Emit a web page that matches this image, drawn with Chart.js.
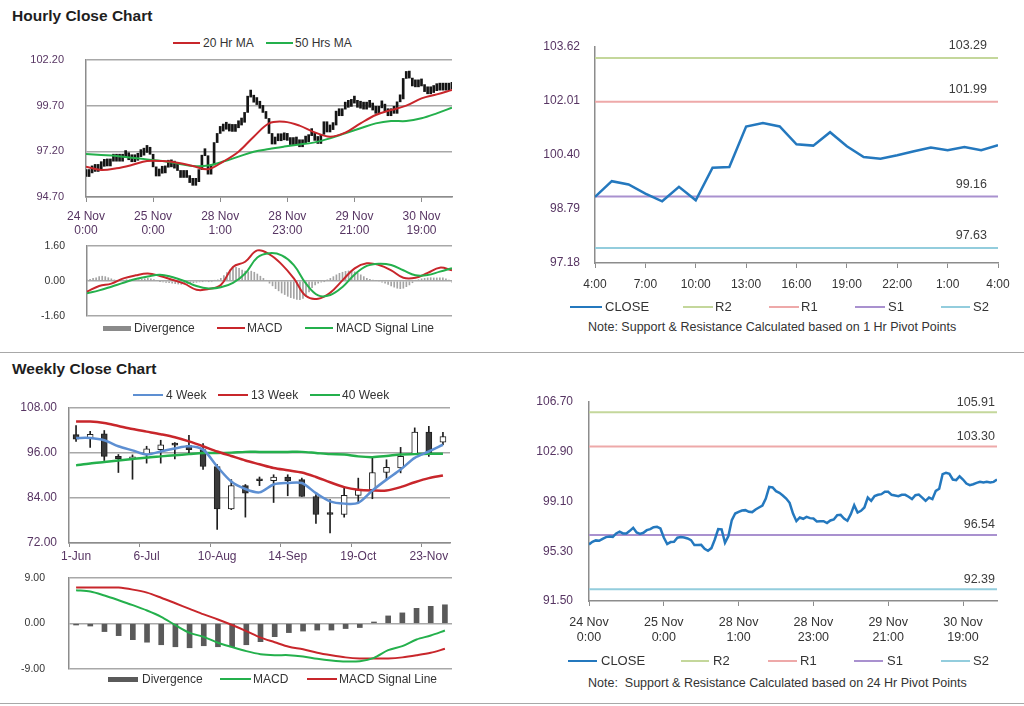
<!DOCTYPE html>
<html>
<head>
<meta charset="utf-8">
<script src="https://cdn.jsdelivr.net/npm/chart.js@4.4.1/dist/chart.umd.min.js"></script>
<style>
  body { margin: 0; width: 1024px; height: 706px; background: #fff; position: relative; overflow: hidden;
         font-family: "Liberation Sans", Arial, sans-serif; }
  .title { position: absolute; left: 12px; font-weight: bold; font-size: 15.5px; color: #1e1e1e; line-height: 18px; }
  .rule { position: absolute; left: 0; width: 1024px; height: 0; border-top: 1.5px solid #a8a8a8; }
  .lg { position: absolute; font-size: 12px; color: #333; white-space: nowrap; line-height: 14px; }
  .note { position: absolute; font-size: 12.5px; color: #333; white-space: pre; line-height: 16px; }
</style>
</head>
<body>
<div class="title" style="top:7px">Hourly Close Chart</div>
<div class="rule" style="top:352px"></div>
<div class="title" style="top:360px">Weekly Close Chart</div>
<div class="rule" style="top:703px"></div>
<div class="note" style="left:588px;top:319px">Note: Support &amp; Resistance Calculated based on 1 Hr Pivot Points</div>
<div class="note" style="left:588px;top:675px">Note:  Support &amp; Resistance Calculated based on 24 Hr Pivot Points</div>

<script>
// ---- hourly data (24 Nov 0:00 .. 1 Dec) ----
const hourlyTickIdx = [0, 22, 44, 66, 88, 110];
const hourlyTickLabels = [['24 Nov', '0:00'], ['25 Nov', '0:00'], ['28 Nov', '1:00'],
                          ['28 Nov', '23:00'], ['29 Nov', '21:00'], ['30 Nov', '19:00']];
const hourlyYTicks = [94.70, 97.20, 99.70, 102.20];
const hourlyFirstOpen = 96.0;
const hourlyClose = [
  95.82, 96.02, 96.13, 96.10, 96.25, 96.38, 96.43, 96.40, 96.66, 96.79,
  96.66, 96.66, 96.86, 97.09, 96.74, 96.63, 96.71, 96.91, 96.99, 97.14,
  97.17, 97.04, 96.35, 95.85, 96.00, 96.02, 96.33, 96.38, 96.35, 96.28,
  96.15, 95.77, 95.77, 95.79, 95.49, 95.34, 95.54, 96.20, 96.99, 96.96,
  95.95, 96.46, 97.68, 98.18, 98.31, 98.41, 98.44, 98.31, 98.29, 98.49,
  98.64, 98.79, 99.33, 100.22, 100.17, 99.89, 99.76, 99.56, 99.33, 99.00,
  98.18, 97.60, 97.88, 97.78, 97.93, 97.83, 97.80, 97.57, 97.60, 97.60,
  97.45, 97.65, 97.73, 98.06, 98.08, 97.80, 97.63, 98.13, 98.82, 98.26,
  98.39, 98.64, 99.40, 99.15, 99.51, 99.61, 99.66, 99.84, 99.84, 99.61,
  99.56, 99.51, 99.61, 99.61, 99.46, 99.28, 99.58, 99.63, 99.40, 99.15,
  99.40, 99.28, 99.91, 100.07, 101.19, 101.29, 101.21, 100.78, 100.73, 101.03,
  100.78, 100.47, 100.35, 100.42, 100.52, 100.60, 100.55, 100.60, 100.55, 100.60,
  100.78
];
const hourlyMaIdx = [0, 5, 10, 15, 20, 25, 30, 35, 40, 45, 50, 55, 60, 65, 70, 75, 80, 85, 90, 95, 100, 105, 110, 115, 120];
const hourlyMa20 = [96.36, 96.18, 96.27, 96.45, 96.67, 96.67, 96.58, 96.40, 96.22, 96.64, 97.18, 98.00, 98.73,
                    98.82, 98.61, 98.24, 98.00, 98.22, 98.73, 99.19, 99.46, 99.70, 100.10, 100.32, 100.56];
const hourlyMa50 = [97.05, 97.00, 96.95, 96.85, 96.76, 96.67, 96.54, 96.40, 96.42, 96.64, 96.91, 97.18, 97.33,
                    97.46, 97.58, 97.69, 97.91, 98.19, 98.46, 98.73, 98.86, 98.86, 99.01, 99.28, 99.59];

const hourlyMacdIdx = [0, 4, 8, 12, 16, 20, 24, 28, 32, 36, 40, 44, 48, 52, 56, 60, 64, 68, 72, 76, 80, 84, 88, 92, 96, 100, 104, 108, 112, 116, 120];
const hourlyMacd = [-0.49, -0.23, -0.12, 0.12, 0.26, 0.34, 0.23, 0.06, -0.12, -0.40, -0.37, -0.18, 0.64, 0.88, 1.40, 1.22,
                    0.76, 0.12, -0.69, -0.81, -0.53, 0.03, 0.58, 0.81, 0.73, 0.49, 0.15, 0.15, 0.37, 0.61, 0.49];
const hourlySignal = [-0.56, -0.43, -0.26, -0.08, 0.09, 0.21, 0.29, 0.18, 0.00, -0.23, -0.34, -0.29, -0.09, 0.34, 1.07, 1.27,
                      1.17, 0.73, -0.12, -0.66, -0.64, -0.27, 0.30, 0.69, 0.79, 0.73, 0.49, 0.26, 0.27, 0.43, 0.58];
const hourlyDivergence = [
  0.05, 0.08, 0.12, 0.15, 0.2, 0.22, 0.2, 0.15, 0.1,
  0.05, 0.03, 0.02, 0.04, 0.06, 0.05, 0.04, 0.05, 0.06, 0.08, 0.1,
  0.12, 0.1, 0.06, 0.03, -0.02, -0.04, -0.06,
  -0.08, -0.1, -0.12, -0.14, -0.15, -0.14, -0.12, -0.1, -0.08, -0.06, -0.04,
  -0.02, 0.0, -0.02, -0.03, 0.02, 0.05, 0.12,
  0.25, 0.38, 0.5, 0.6, 0.62, 0.58, 0.5, 0.45, 0.42, 0.45, 0.4, 0.32, 0.22, 0.12, 0.02,
  -0.1, -0.22, -0.35, -0.45, -0.55, -0.62, -0.7, -0.76, -0.8, -0.84, -0.85, -0.8, -0.7, -0.5, -0.3,
  -0.18, -0.1, -0.05, -0.02, 0.05,
  0.12, 0.2, 0.28, 0.35, 0.4, 0.44, 0.46, 0.45, 0.42, 0.36, 0.28, 0.2, 0.12,
  0.08, 0.04, 0.02, 0.0,
  -0.05, -0.1, -0.16, -0.22, -0.28, -0.33, -0.35, -0.33, -0.26, -0.18, -0.08,
  0.02, 0.06, 0.1, 0.12, 0.14, 0.15, 0.14, 0.14, 0.15, 0.14, 0.1, 0.04, -0.05
];
const hourlyMacdTicks = [-1.60, 0.00, 1.60];

// ---- 1 hr pivot panel ----
const pivot1hHours = ['4:00', '5:00', '6:00', '7:00', '8:00', '9:00', '10:00', '11:00', '12:00', '13:00', '14:00', '15:00',
                      '16:00', '17:00', '18:00', '19:00', '20:00', '21:00', '22:00', '23:00', '0:00', '1:00', '2:00', '3:00', '4:00'];
const pivot1hClose = [99.15, 99.62, 99.52, 99.25, 99.02, 99.45, 99.05, 100.02, 100.04, 101.25, 101.35, 101.25,
                      100.72, 100.68, 101.08, 100.66, 100.34, 100.29, 100.39, 100.51, 100.62, 100.54, 100.64, 100.54, 100.69];
const pivot1hLevels = [103.29, 101.99, 99.16, 97.63];
const pivot1hYTicks = [97.18, 98.79, 100.40, 102.01, 103.62];

// ---- 24 hr pivot panel ----
const pivot24hLevels = [105.91, 103.30, 96.54, 92.39];
const pivot24hYTicks = [91.50, 95.30, 99.10, 102.90, 106.70];
const pivotNames = ['R2', 'R1', 'S1', 'S2'];

// ---- weekly data ----
const weeklyLabels = ['1-Jun', '8-Jun', '15-Jun', '22-Jun', '29-Jun', '6-Jul', '13-Jul', '20-Jul', '27-Jul', '3-Aug',
                      '10-Aug', '17-Aug', '24-Aug', '31-Aug', '7-Sep', '14-Sep', '21-Sep', '28-Sep', '5-Oct', '12-Oct',
                      '19-Oct', '26-Oct', '2-Nov', '9-Nov', '16-Nov', '23-Nov', '30-Nov'];
const weeklyOpen  = [100.9, 100.0, 101.1, 95.1, 94.4, 95.6, 96.9, 98.5, 98.0, 96.9, 92.4, 81.1, 87.3, 88.8,
                     88.6, 89.6, 88.9, 84.4, 79.8, 79.6, 84.7, 86.2, 90.8, 92.0, 95.8, 101.6, 98.9];
const weeklyClose = [99.7, 101.0, 95.1, 94.4, 95.0, 97.1, 98.2, 98.1, 96.9, 92.4, 81.1, 87.3, 85.3, 88.6,
                     89.6, 88.6, 84.4, 79.6, 79.6, 84.7, 86.2, 90.8, 92.2, 95.1, 101.6, 96.0, 100.4];
const weeklyHigh  = [103.3, 101.8, 102.0, 95.6, 95.5, 97.8, 99.4, 98.8, 100.7, 98.5, 92.9, 88.9, 87.6, 89.6,
                     90.2, 90.2, 89.3, 84.9, 83.6, 86.7, 89.3, 95.1, 94.2, 97.5, 102.7, 103.1, 101.5];
const weeklyLow   = [99.1, 97.5, 94.0, 90.8, 89.0, 93.3, 93.3, 94.4, 95.6, 91.6, 75.6, 80.9, 78.9, 87.3,
                     82.8, 84.6, 84.4, 77.2, 74.7, 78.9, 82.7, 83.8, 88.9, 90.7, 95.6, 95.1, 98.2];
const weeklyMa4  = [100.0, 100.0, 99.4, 97.8, 96.7, 95.6, 96.4, 97.2, 97.8, 96.9, 92.4, 88.4, 86.4, 85.5,
                    87.6, 88.0, 88.0, 85.3, 83.1, 82.5, 82.7, 86.0, 88.9, 91.6, 94.7, 96.4, 98.2];
const weeklyMa13 = [104.4, 104.4, 104.0, 103.2, 102.4, 101.7, 101.0, 100.2, 99.1, 97.8, 96.4, 95.2, 94.0, 93.0,
                    92.0, 91.4, 90.8, 89.6, 88.2, 86.9, 86.2, 86.0, 86.0, 86.9, 88.2, 89.3, 90.0];
const weeklyMa40 = [92.7, 93.2, 93.6, 94.0, 94.4, 94.8, 95.1, 95.4, 95.7, 96.0, 96.0, 96.1, 96.3, 96.3,
                    96.3, 96.3, 96.3, 96.0, 95.7, 95.6, 95.1, 94.9, 95.2, 95.6, 95.7, 95.8, 95.8];
const weeklyYTicks = [72, 84, 96, 108];
const weeklyMacd   = [6.59, 6.33, 5.54, 4.61, 3.63, 2.57, 1.32, -0.33, -1.85, -2.64, -3.82, -4.68, -5.47, -6.06,
                      -6.26, -6.26, -6.53, -6.99, -7.32, -7.52, -7.45, -6.79, -5.27, -4.48, -3.16, -2.37, -1.38];
const weeklySignal = [7.1, 7.1, 7.1, 7.1, 6.7, 6.1, 5.1, 4.0, 2.9, 1.8, 0.8, -0.3, -1.5, -2.8,
                      -3.7, -4.6, -5.1, -5.8, -6.3, -6.7, -6.9, -6.9, -6.9, -6.7, -6.3, -5.8, -5.0];
const weeklyDivergence = [-0.3, -0.5, -1.6, -2.4, -3.2, -3.7, -4.2, -4.6, -4.8, -4.4, -4.6, -4.6, -4.2, -3.6,
                          -2.6, -1.8, -1.5, -1.3, -1.3, -1.0, -0.8, 0.3, 1.5, 2.1, 3.0, 3.4, 3.7];
const weeklyMacdTicks = [-9, 0, 9];


// styles
const GRID = '#a8a8a8';
const AXIS = '#8c8c8c';
const PURPLE = '#573563';
const DARK = '#333333';
const RED = '#c8262b';
const GREEN = '#24b04c';
const BLUE = '#2478be';
const BLUE4 = '#5d8fd2';
const pivotColors = ['#c4d79b', '#eea9a9', '#a991cf', '#93cddd'];
const CLEAR = 'rgba(0,0,0,0)';

Chart.defaults.font.family = '"Liberation Sans", Arial, sans-serif';

const zip = (xs, ys) => ys.map((y, k) => ({ x: xs[k], y }));
const fixTicks = vals => scale => { scale.ticks = vals.map(v => ({ value: v })); };
const two = v => Number(v).toFixed(2);

// y axis of fixed width; drop the label padding chart.js adds above/below the plot
const yFit = width => s => {
    s.width = width;
    s.paddingTop = 0;
    s.paddingBottom = 0;
};

const makeCanvas = (left, top, w, h) => {
    const c = document.createElement('canvas');
    c.width = w;
    c.height = h;
    c.style.cssText = `position:absolute;left:${left}px;top:${top}px;width:${w}px;height:${h}px`;
    document.body.appendChild(c);
    return c;
};

const baseOptions = (padding) => ({
    responsive: false,
    animation: false,
    events: [],
    layout: { padding },
    plugins: { legend: { display: false }, tooltip: { enabled: false } }
});

// an x axis that only holds space (no labels, no lines)
const blankX = (extra, height) => ({
    ...extra,
    afterFit: s => { s.height = height; },
    ticks: { display: false },
    grid: { display: false, drawTicks: false },
    border: { display: false }
});

// legend drawn as html: [kind, color, symbolX, centerY, symbolW, text, textX, fontSize]
const legend = (items) => {
    items.forEach(([kind, color, x, y, w, text, tx, size]) => {
        const h = kind === 'rect' ? 5 : 2;
        const sym = document.createElement('div');
        sym.style.cssText = `position:absolute;left:${x}px;top:${y - h / 2}px;width:${w}px;height:${h}px;background:${color}`;
        document.body.appendChild(sym);
        const t = document.createElement('div');
        t.className = 'lg';
        t.textContent = text;
        t.style.left = tx + 'px';
        t.style.top = (y - 7) + 'px';
        if (size) t.style.fontSize = size + 'px';
        document.body.appendChild(t);
    });
};

const pivotLabels = (levels, inset, lift) => ({
    id: 'pivotLabels',
    afterDatasetsDraw(chart) {
        const { ctx, chartArea, scales: { y } } = chart;
        ctx.save();
        ctx.font = '12.5px "Liberation Sans", Arial, sans-serif';
        ctx.fillStyle = '#3c3c3c';
        ctx.textAlign = 'right';
        ctx.textBaseline = 'middle';
        levels.forEach(v => ctx.fillText(two(v), chartArea.right - inset, y.getPixelForValue(v) - lift));
        ctx.restore();
    }
});

const pivotDatasets = (levels, xFirst, xLast) => levels.map((v, k) => ({
    type: 'line',
    label: pivotNames[k],
    data: [{ x: xFirst, y: v }, { x: xLast, y: v }],
    borderColor: pivotColors[k],
    borderWidth: 2,
    pointRadius: 0,
    order: 1
}));


// Hourly candles + moving averages
const hourlyBodies = hourlyClose.map((c, i) => ({ x: i, y: [i ? hourlyClose[i - 1] : hourlyFirstOpen, c] }));

new Chart(makeCanvas(0, 50, 470, 192), {
    type: 'bar',
    data: {
        datasets: [
            { type: 'line', label: '20 Hr MA', data: zip(hourlyMaIdx, hourlyMa20), borderColor: RED,
              borderWidth: 2, pointRadius: 0, tension: 0.35, order: 0 },
            { type: 'line', label: '50 Hrs MA', data: zip(hourlyMaIdx, hourlyMa50), borderColor: GREEN,
              borderWidth: 2, pointRadius: 0, tension: 0.35, order: 0 },
            { type: 'bar', label: 'Hourly', data: hourlyBodies, backgroundColor: '#151515',
              barThickness: 2, minBarLength: 7, order: 2 }
        ]
    },
    options: {
        ...baseOptions({ top: 10, right: 18, bottom: 0, left: 0 }),
        scales: {
            x: {
                type: 'linear', min: 0, max: hourlyClose.length - 1, offset: false,
                afterBuildTicks: fixTicks(hourlyTickIdx),
                afterFit: s => { s.height = 45; },
                ticks: { callback: v => hourlyTickLabels[hourlyTickIdx.indexOf(v)], color: PURPLE,
                         font: { size: 12 }, padding: 7, maxRotation: 0, autoSkip: false },
                grid: { drawOnChartArea: false, tickLength: 5, color: AXIS, offset: false },
                border: { color: AXIS, width: 1.5 }
            },
            y: {
                min: 94.7, max: 102.2,
                afterBuildTicks: fixTicks(hourlyYTicks),
                afterFit: yFit(86),
                ticks: { callback: two, color: PURPLE, font: { size: 11 }, padding: 22 },
                grid: { color: GRID, lineWidth: 1.5, drawTicks: false },
                border: { color: AXIS, width: 1.5 }
            }
        }
    }
});

// Hourly MACD
new Chart(makeCanvas(0, 240, 470, 86), {
    type: 'bar',
    data: {
        datasets: [
            { type: 'line', label: 'MACD Signal Line', data: zip(hourlyMacdIdx, hourlySignal), borderColor: GREEN,
              borderWidth: 2, pointRadius: 0, tension: 0.4, order: 0 },
            { type: 'line', label: 'MACD', data: zip(hourlyMacdIdx, hourlyMacd), borderColor: RED,
              borderWidth: 2, pointRadius: 0, tension: 0.4, order: 1 },
            { type: 'bar', label: 'Divergence', data: hourlyDivergence.map((v, i) => ({ x: i, y: v })),
              backgroundColor: '#a4a4a4', barThickness: 1, order: 2 }
        ]
    },
    options: {
        ...baseOptions({ top: 6, right: 18, bottom: 0, left: 0 }),
        scales: {
            x: blankX({ type: 'linear', min: 0, max: hourlyDivergence.length - 1, offset: false }, 10),
            y: {
                min: -1.6, max: 1.6,
                afterBuildTicks: fixTicks(hourlyMacdTicks),
                afterFit: yFit(87),
                ticks: { callback: two, color: DARK, font: { size: 10.5 }, padding: 22 },
                grid: { color: GRID, lineWidth: 1.5, drawTicks: false },
                border: { color: AXIS, width: 1.5 }
            }
        }
    }
});

// 1 hr pivot panel
const pivot1hIdx = pivot1hHours.map((h, i) => i);
new Chart(makeCanvas(520, 30, 504, 268), {
    type: 'line',
    data: {
        datasets: [
            { label: 'CLOSE', data: zip(pivot1hIdx, pivot1hClose), borderColor: BLUE, borderWidth: 2.5,
              pointRadius: 0, order: 0 },
            ...pivotDatasets(pivot1hLevels, 0, pivot1hHours.length - 1)
        ]
    },
    options: {
        ...baseOptions({ top: 17, right: 26, bottom: 0, left: 0 }),
        scales: {
            x: {
                type: 'linear', min: 0, max: pivot1hHours.length - 1, offset: false,
                afterBuildTicks: fixTicks(pivot1hIdx.filter(i => i % 3 === 0)),
                afterFit: s => { s.height = 35; },
                ticks: { callback: v => pivot1hHours[v], color: DARK, font: { size: 12 }, padding: 9,
                         maxRotation: 0, autoSkip: false },
                grid: { drawOnChartArea: false, tickLength: 5, color: AXIS },
                border: { color: AXIS, width: 1.5 }
            },
            y: {
                min: 97.18, max: 103.62,
                afterBuildTicks: fixTicks(pivot1hYTicks),
                afterFit: yFit(75),
                ticks: { callback: two, color: PURPLE, font: { size: 12 }, padding: 15 },
                grid: { display: false, drawTicks: false },
                border: { display: true, color: AXIS, width: 1.5 }
            }
        }
    },
    plugins: [pivotLabels(pivot1hLevels, 11, 12.5)]
});

// 24 hr pivot panel
const hourlyIdx = hourlyClose.map((c, i) => i);
new Chart(makeCanvas(520, 385, 504, 265), {
    type: 'line',
    data: {
        datasets: [
            { label: 'CLOSE', data: zip(hourlyIdx, hourlyClose), borderColor: BLUE, borderWidth: 2.5,
              pointRadius: 0, order: 0 },
            ...pivotDatasets(pivot24hLevels, 0, hourlyClose.length - 1)
        ]
    },
    options: {
        ...baseOptions({ top: 17, right: 27, bottom: 0, left: 0 }),
        scales: {
            x: {
                type: 'linear', min: 0, max: hourlyClose.length - 1, offset: false,
                afterBuildTicks: fixTicks(hourlyTickIdx),
                afterFit: s => { s.height = 49; },
                ticks: { callback: v => hourlyTickLabels[hourlyTickIdx.indexOf(v)], color: DARK,
                         font: { size: 12.5 }, padding: 9, maxRotation: 0, autoSkip: false },
                grid: { drawOnChartArea: false, tickLength: 5, color: AXIS },
                border: { color: AXIS, width: 1.5 }
            },
            y: {
                min: 91.5, max: 106.7,
                afterBuildTicks: fixTicks(pivot24hYTicks),
                afterFit: yFit(69),
                ticks: { callback: two, color: PURPLE, font: { size: 12 }, padding: 16 },
                grid: { display: false, drawTicks: false },
                border: { display: true, color: AXIS, width: 1.5 }
            }
        }
    },
    plugins: [pivotLabels(pivot24hLevels, 2, 10)]
});

// Weekly candles + moving averages
new Chart(makeCanvas(0, 400, 470, 170), {
    type: 'bar',
    data: {
        labels: weeklyLabels,
        datasets: [
            { type: 'line', label: '4 Week', data: weeklyMa4, borderColor: BLUE4, borderWidth: 2.5,
              pointRadius: 0, tension: 0.3, order: 0 },
            { type: 'line', label: '13 Week', data: weeklyMa13, borderColor: RED, borderWidth: 2.5,
              pointRadius: 0, tension: 0.3, order: 0 },
            { type: 'line', label: '40 Week', data: weeklyMa40, borderColor: GREEN, borderWidth: 2.5,
              pointRadius: 0, tension: 0.3, order: 0 },
            { label: 'Body', data: weeklyOpen.map((o, i) => [o, weeklyClose[i]]),
              backgroundColor: weeklyOpen.map((o, i) => weeklyClose[i] >= o ? '#ffffff' : '#3a3a3a'),
              borderColor: '#1e1e1e', borderWidth: 1, borderSkipped: false,
              barThickness: 6, minBarLength: 2, grouped: false, order: 1 },
            { label: 'Wick', data: weeklyLow.map((l, i) => [l, weeklyHigh[i]]),
              backgroundColor: '#1e1e1e', barThickness: 1, grouped: false, order: 2 }
        ]
    },
    options: {
        ...baseOptions({ top: 8, right: 20, bottom: 0, left: 0 }),
        scales: {
            x: {
                offset: true,
                afterFit: s => { s.height = 27; },
                ticks: { callback: (v, i) => (i % 5 === 0 ? weeklyLabels[i] : ''), color: PURPLE,
                         font: { size: 12 }, padding: 2, maxRotation: 0, autoSkip: false },
                grid: { drawOnChartArea: false, offset: true, tickLength: 4,
                        color: ctx => (ctx.index % 5 === 0 ? AXIS : CLEAR) },
                border: { color: AXIS, width: 1.5 }
            },
            y: {
                min: 72, max: 108,
                afterBuildTicks: fixTicks(weeklyYTicks),
                afterFit: yFit(69),
                ticks: { callback: two, color: PURPLE, font: { size: 12 }, padding: 12 },
                grid: { color: GRID, lineWidth: 1.5, drawTicks: false },
                border: { color: AXIS, width: 1.5 }
            }
        }
    }
});

// Weekly MACD
new Chart(makeCanvas(0, 570, 470, 104), {
    type: 'bar',
    data: {
        labels: weeklyLabels,
        datasets: [
            { type: 'line', label: 'MACD', data: weeklyMacd, borderColor: GREEN, borderWidth: 2,
              pointRadius: 0, tension: 0.3, order: 0 },
            { type: 'line', label: 'MACD Signal Line', data: weeklySignal, borderColor: RED, borderWidth: 2,
              pointRadius: 0, tension: 0.3, order: 0 },
            { label: 'Divergence', data: weeklyDivergence, backgroundColor: '#5a5a5a', barThickness: 5, order: 1 }
        ]
    },
    options: {
        ...baseOptions({ top: 8, right: 18, bottom: 0, left: 0 }),
        scales: {
            x: blankX({ offset: true }, 5),
            y: {
                min: -9, max: 9,
                afterBuildTicks: fixTicks(weeklyMacdTicks),
                afterFit: yFit(69),
                ticks: { callback: two, color: DARK, font: { size: 10.5 }, padding: 24 },
                grid: { color: GRID, lineWidth: 1.5, drawTicks: false },
                border: { color: AXIS, width: 1.5 }
            }
        }
    }
});

legend([
    ['line', RED, 173, 43, 27, '20 Hr MA', 203],
    ['line', GREEN, 266, 43, 27, '50 Hrs MA', 295],
    ['rect', '#8a8a8a', 103, 328, 28, 'Divergence', 134],
    ['line', RED, 217, 328, 28, 'MACD', 247],
    ['line', GREEN, 305, 328, 28, 'MACD Signal Line', 336],
    ['line', BLUE, 570, 307, 32, 'CLOSE', 605, 13],
    ['line', pivotColors[0], 683, 307, 30, 'R2', 715, 13],
    ['line', pivotColors[1], 769, 307, 30, 'R1', 801, 13],
    ['line', pivotColors[2], 855, 307, 30, 'S1', 888, 13],
    ['line', pivotColors[3], 941, 307, 29, 'S2', 973, 13],
    ['line', BLUE4, 133, 395, 30, '4 Week', 166],
    ['line', RED, 218, 395, 30, '13 Week', 251],
    ['line', GREEN, 310, 395, 30, '40 Week', 342],
    ['rect', '#5a5a5a', 108, 679, 30, 'Divergence', 142],
    ['line', GREEN, 220, 679, 31, 'MACD', 253],
    ['line', RED, 307, 679, 30, 'MACD Signal Line', 339],
    ['line', BLUE, 568, 661, 29, 'CLOSE', 601, 13],
    ['line', pivotColors[0], 681, 661, 28, 'R2', 713, 13],
    ['line', pivotColors[1], 768, 661, 29, 'R1', 800, 13],
    ['line', pivotColors[2], 854, 661, 29, 'S1', 887, 13],
    ['line', pivotColors[3], 941, 661, 29, 'S2', 973, 13]
]);
</script>
</body>
</html>
